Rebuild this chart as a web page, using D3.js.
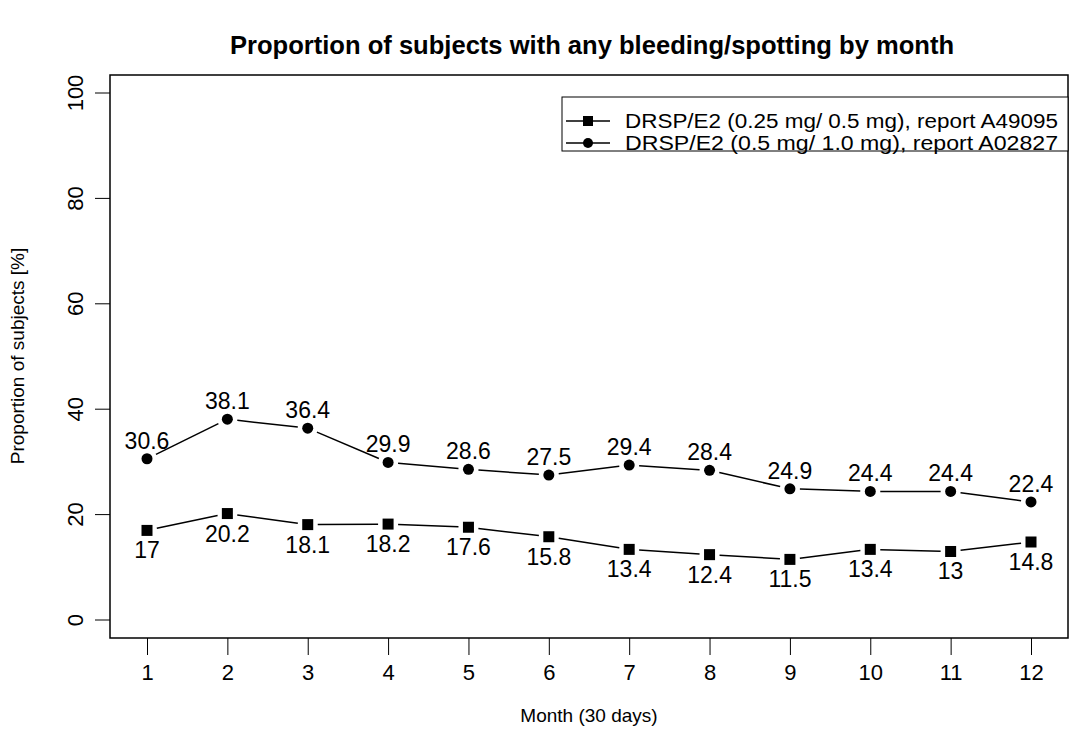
<!DOCTYPE html>
<html><head><meta charset="utf-8">
<script src="https://cdn.jsdelivr.net/npm/d3@7"></script>
<style>body{margin:0;background:#fff}svg{display:block}text{font-family:"Liberation Sans",Arial,sans-serif}</style>
</head><body>
<svg id="c" width="1084" height="753"></svg>
<script>
const months = [1,2,3,4,5,6,7,8,9,10,11,12];
const seriesNames = ["DRSP/E2 (0.25 mg/ 0.5 mg), report A49095","DRSP/E2 (0.5 mg/ 1.0 mg), report A02827"];
const lowDose = [17,20.2,18.1,18.2,17.6,15.8,13.4,12.4,11.5,13.4,13,14.8];
const highDose = [30.6,38.1,36.4,29.9,28.6,27.5,29.4,28.4,24.9,24.4,24.4,22.4];
const yTicks = [0,20,40,60,80,100];
const title = "Proportion of subjects with any bleeding/spotting by month";
const xTitle = "Month (30 days)";
const yTitle = "Proportion of subjects [%]";

const FF = "Liberation Sans, Arial, sans-serif";
const svg = d3.select("#c");
const box = {l:110, r:1068, t:75, b:638};
const x = d3.scaleLinear().domain([1,12]).range([147,1031]);
const y = d3.scaleLinear().domain([0,100]).range([620,93]);

svg.append("rect").attr("x",box.l).attr("y",box.t).attr("width",box.r-box.l).attr("height",box.b-box.t)
  .attr("fill","none").attr("stroke","#000").attr("stroke-width",1.5);

svg.append("text").attr("x",592).attr("y",54).attr("text-anchor","middle")
  .attr("font-weight","bold").style("font-size","25px").attr("textLength",724).attr("lengthAdjust","spacingAndGlyphs").text(title);

// x axis
const xa = svg.append("g").attr("transform",`translate(0,${box.b})`)
  .call(d3.axisBottom(x).tickValues(months).tickSize(17).tickPadding(0).tickFormat(d3.format("d")));
xa.select(".domain").remove();
xa.selectAll("line").attr("stroke","#000");
xa.selectAll("text").style("font-size","22px").attr("fill","#000").style("font-family",FF).attr("y",34).attr("dy","0.35em");
svg.append("text").attr("x",589).attr("y",722).attr("text-anchor","middle").style("font-size","19px").text(xTitle);

// y axis
const ya = svg.append("g")
  .call(d3.axisLeft(y).tickValues(yTicks).tickSize(15));
ya.select(".domain").remove();
ya.selectAll(".tick").attr("transform",null);
ya.selectAll(".tick line").attr("stroke","#000").attr("x1",box.l-15).attr("x2",box.l).attr("y1",d=>y(d)).attr("y2",d=>y(d));
ya.selectAll(".tick text").style("font-size","22px").attr("fill","#000").style("font-family",FF)
  .attr("text-anchor","middle").attr("x",0).attr("y",0).attr("dy","0.35em")
  .attr("transform",d=>`translate(75,${y(d)}) rotate(-90)`);
svg.append("text").attr("transform",`translate(24,356) rotate(-90)`).attr("text-anchor","middle").style("font-size","19px").text(yTitle);

// series
function drawSeries(vals, shape, labelPos){
  const pts = vals.map((v,i)=>[x(months[i]),y(v)]);
  const gap = 10;
  for(let i=0;i<pts.length-1;i++){
    const [x1,y1]=pts[i],[x2,y2]=pts[i+1];
    const dx=x2-x1, dy=y2-y1, L=Math.hypot(dx,dy);
    const ux=dx/L, uy=dy/L;
    svg.append("line").attr("x1",x1+ux*gap).attr("y1",y1+uy*gap).attr("x2",x2-ux*gap).attr("y2",y2-uy*gap)
      .attr("stroke","#000").attr("stroke-width",1.5);
  }
  pts.forEach(([px,py])=>{
    if(shape==="square") svg.append("rect").attr("x",px-5.5).attr("y",py-5.5).attr("width",11).attr("height",11).attr("fill","#000");
    else svg.append("circle").attr("cx",px).attr("cy",py).attr("r",5.5).attr("fill","#000");
  });
  vals.forEach((v,i)=>{
    svg.append("text").attr("x",x(months[i])).attr("y",labelPos==="above"?y(v)-10:y(v)+28)
      .attr("text-anchor","middle").style("font-size","23px").text(v);
  });
}
drawSeries(lowDose,"square","below");
drawSeries(highDose,"circle","above");

// legend
const lg = svg.append("g");
lg.append("rect").attr("x",562).attr("y",97).attr("width",506).attr("height",54).attr("fill","#fff").attr("stroke","#000").attr("stroke-width",1);
seriesNames.forEach((n,i)=>{
  const yy = 121 + i*22;
  lg.append("line").attr("x1",566).attr("x2",610).attr("y1",yy).attr("y2",yy).attr("stroke","#000").attr("stroke-width",1.5);
  if(i===0) lg.append("rect").attr("x",583).attr("y",yy-5).attr("width",10).attr("height",10).attr("fill","#000");
  else lg.append("circle").attr("cx",588).attr("cy",yy).attr("r",5).attr("fill","#000");
  lg.append("text").attr("x",625).attr("y",yy+7).style("font-size","20px").attr("textLength",433).attr("lengthAdjust","spacingAndGlyphs").text(n);
});
</script>
</body></html>
